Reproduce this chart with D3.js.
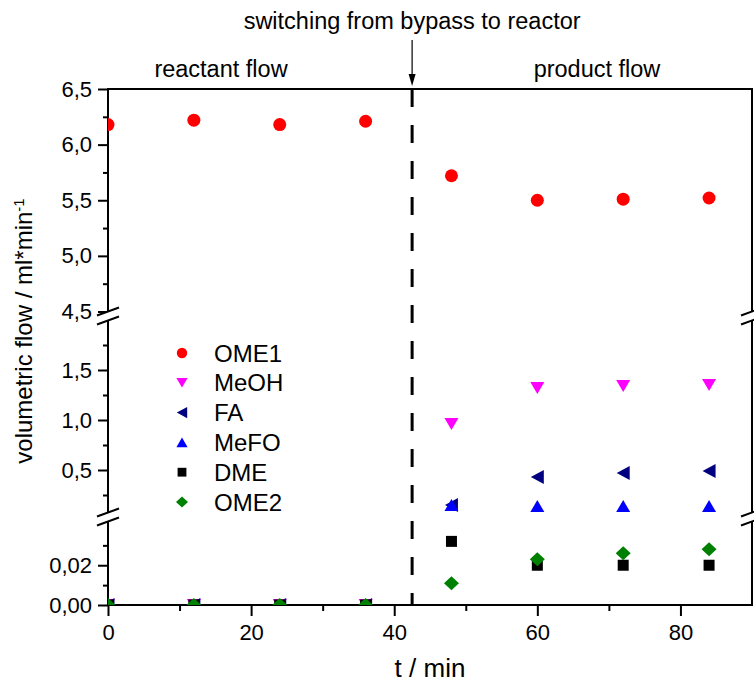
<!DOCTYPE html>
<html>
<head>
<meta charset="utf-8">
<script src="https://cdn.jsdelivr.net/npm/d3@7"></script>
<style>
  html, body { margin: 0; padding: 0; background: #fff; }
  svg text { font-family: "Liberation Sans", Arial, sans-serif; fill: #000; }
</style>
</head>
<body>
<div id="chart"></div>
<script>
// sampling times (min)
var times = [0, 12, 24, 36, 48, 60, 72, 84];

// volumetric flows (ml/min) per species
var ome1 = [6.18, 6.22, 6.18, 6.21, 5.72, 5.50, 5.51, 5.52];
var meoh = [0, 0, 0, 0, 0.96, 1.32, 1.34, 1.35];
var fa   = [0, 0, 0, 0, 0.15, 0.43, 0.47, 0.49];
var mefo = [0, 0, 0, 0, 0.15, 0.14, 0.14, 0.14];
var dme  = [0, 0, 0, 0, 0.032, 0.020, 0.020, 0.020];
var ome2 = [0, 0, 0, 0, 0.011, 0.023, 0.026, 0.028];

var seriesNames  = ['OME1', 'MeOH', 'FA', 'MeFO', 'DME', 'OME2'];
var seriesValues = [ome1, meoh, fa, mefo, dme, ome2];

// broken y axis: three segments, top to bottom
var segDomains = [[4.5, 6.5], [0.075, 1.995], [0, 0.042]];
var segMajor   = [[4.5, 5.0, 5.5, 6.0, 6.5], [0.5, 1.0, 1.5], [0, 0.02]];
var segMinor   = [[4.75, 5.25, 5.75, 6.25], [0.25, 0.75, 1.25, 1.75], [0.01, 0.03]];
var segDigits  = [1, 1, 2];

var xDomain = [0, 90];
var xMajor = [0, 20, 40, 60, 80];
var xMinor = [10, 30, 50, 70];
var switchTime = 42.5;

function draw() {
    var width = 754, height = 685;
    var plot = {left: 108, right: 752, top: 89, bottom: 605};
    var breaks = [316, 517];
    var gap = 4.5;

    var svg = d3.select('#chart').append('svg')
        .attr('width', width)
        .attr('height', height);

    var x = d3.scaleLinear().domain(xDomain).range([plot.left, plot.right]);

    var segRanges = [
        [breaks[0] - gap, plot.top],
        [breaks[1] - gap, breaks[0] + gap],
        [plot.bottom, breaks[1] + gap]
    ];
    var ys = segDomains.map((d, i) => d3.scaleLinear().domain(d).range(segRanges[i]));

    function y(v) {
        if (v >= segDomains[0][0]) return ys[0](v);
        if (v >= segDomains[1][0]) return ys[1](v);
        return ys[2](v);
    }

    var styles = [
        {shape: 'circle', color: '#ff0000'},
        {shape: 'down',   color: '#ff00ff'},
        {shape: 'left',   color: '#000080'},
        {shape: 'up',     color: '#0000ff'},
        {shape: 'square', color: '#000000'},
        {shape: 'diamond', color: '#008000'}
    ];

    function marker(shape, k) {
        var p = d3.path();
        if (shape === 'circle') {
            p.arc(0, 0, 6.5 * k, 0, 2 * Math.PI);
        } else if (shape === 'down') {
            p.moveTo(-7 * k, -6 * k); p.lineTo(7 * k, -6 * k); p.lineTo(0, 6 * k); p.closePath();
        } else if (shape === 'up') {
            p.moveTo(-7 * k, 6 * k); p.lineTo(7 * k, 6 * k); p.lineTo(0, -6 * k); p.closePath();
        } else if (shape === 'left') {
            p.moveTo(6.5 * k, -7 * k); p.lineTo(6.5 * k, 7 * k); p.lineTo(-6.5 * k, 0); p.closePath();
        } else if (shape === 'square') {
            p.rect(-5.5 * k, -5.5 * k, 11 * k, 11 * k);
        } else {
            p.moveTo(0, -7 * k); p.lineTo(7.5 * k, 0); p.lineTo(0, 7 * k); p.lineTo(-7.5 * k, 0); p.closePath();
        }
        return p.toString();
    }

    function fmt(digits) {
        return v => d3.format('.' + digits + 'f')(v).replace('.', ',');
    }

    // y axis ticks, one axis per segment
    ys.forEach(function(s, i) {
        var gMaj = svg.append('g')
            .attr('transform', `translate(${plot.left},0)`)
            .call(d3.axisLeft(s).tickValues(segMajor[i]).tickSize(10).tickPadding(6).tickFormat(fmt(segDigits[i])));
        gMaj.select('.domain').remove();
        gMaj.selectAll('line').attr('stroke', '#000').attr('stroke-width', 2);
        gMaj.selectAll('text').style('font-size', '22px');

        var gMin = svg.append('g')
            .attr('transform', `translate(${plot.left},0)`)
            .call(d3.axisLeft(s).tickValues(segMinor[i]).tickSize(5).tickFormat(''));
        gMin.select('.domain').remove();
        gMin.selectAll('line').attr('stroke', '#000').attr('stroke-width', 2);
    });

    // x axis
    var gx = svg.append('g')
        .attr('transform', `translate(0,${plot.bottom})`)
        .call(d3.axisBottom(x).tickValues(xMajor).tickSize(11).tickPadding(8).tickFormat(d3.format('d')));
    gx.select('.domain').remove();
    gx.selectAll('line').attr('stroke', '#000').attr('stroke-width', 2);
    gx.selectAll('text').style('font-size', '22px');

    var gxm = svg.append('g')
        .attr('transform', `translate(0,${plot.bottom})`)
        .call(d3.axisBottom(x).tickValues(xMinor).tickSize(6).tickFormat(''));
    gxm.select('.domain').remove();
    gxm.selectAll('line').attr('stroke', '#000').attr('stroke-width', 2);

    // frame
    svg.append('rect')
        .attr('x', plot.left).attr('y', plot.top)
        .attr('width', plot.right - plot.left)
        .attr('height', plot.bottom - plot.top)
        .attr('fill', 'none')
        .attr('stroke', '#000')
        .attr('stroke-width', 2);

    // axis break marks on left and right sides
    var dx = 11, dy = 4;
    [plot.left, plot.right].forEach(function(bx) {
        breaks.forEach(function(by) {
            var a = by - gap, b = by + gap;
            svg.append('polygon')
                .attr('points', [[bx - dx, a + dy], [bx + dx, a - dy], [bx + dx, b - dy], [bx - dx, b + dy]].join(' '))
                .attr('fill', '#fff');
            [a, b].forEach(function(c) {
                svg.append('line')
                    .attr('x1', bx - dx).attr('y1', c + dy)
                    .attr('x2', bx + dx).attr('y2', c - dy)
                    .attr('stroke', '#000').attr('stroke-width', 2);
            });
        });
    });

    // switch line
    svg.append('line')
        .attr('x1', x(switchTime)).attr('x2', x(switchTime))
        .attr('y1', plot.top).attr('y2', plot.bottom)
        .attr('stroke', '#000')
        .attr('stroke-width', 3)
        .attr('stroke-dasharray', '18,18');

    // markers
    svg.append('clipPath').attr('id', 'plot-clip')
        .append('rect')
        .attr('x', plot.left).attr('y', plot.top)
        .attr('width', plot.right - plot.left)
        .attr('height', plot.bottom - plot.top);

    var pts = svg.append('g').attr('clip-path', 'url(#plot-clip)');
    seriesValues.forEach(function(vals, i) {
        pts.append('g').selectAll('path')
            .data(vals)
            .enter()
            .append('path')
            .attr('d', marker(styles[i].shape, 1))
            .attr('fill', styles[i].color)
            .attr('transform', (d, j) => `translate(${x(times[j])},${y(d)})`);
    });

    // legend
    var legend = svg.append('g');
    seriesNames.forEach(function(name, i) {
        var ly = 353 + i * 29.8;
        legend.append('path')
            .attr('d', marker(styles[i].shape, 0.8))
            .attr('fill', styles[i].color)
            .attr('transform', `translate(182,${ly})`);
        legend.append('text')
            .attr('x', 214)
            .attr('y', ly)
            .attr('dy', '0.36em')
            .style('font-size', '24px')
            .text(name);
    });

    // annotations
    var sx = x(switchTime);
    svg.append('text')
        .attr('x', sx).attr('y', 29)
        .attr('text-anchor', 'middle')
        .style('font-size', '23.5px')
        .text('switching from bypass to reactor');

    svg.append('line')
        .attr('x1', sx).attr('x2', sx)
        .attr('y1', 40).attr('y2', 76)
        .attr('stroke', '#000').attr('stroke-width', 1.2);
    svg.append('path')
        .attr('d', `M${sx - 3.5},74 L${sx + 3.5},74 L${sx},86 Z`)
        .attr('fill', '#000');

    svg.append('text')
        .attr('x', 221).attr('y', 77)
        .attr('text-anchor', 'middle')
        .style('font-size', '23.5px')
        .text('reactant flow');

    svg.append('text')
        .attr('x', 597).attr('y', 77)
        .attr('text-anchor', 'middle')
        .style('font-size', '23.5px')
        .text('product flow');

    // axis titles
    svg.append('text')
        .attr('x', 430).attr('y', 677)
        .attr('text-anchor', 'middle')
        .style('font-size', '26px')
        .text('t / min');

    var yt = svg.append('text')
        .attr('transform', 'translate(32,331) rotate(-90)')
        .attr('text-anchor', 'middle')
        .style('font-size', '24px');
    yt.append('tspan').text('volumetric flow / ml*min');
    yt.append('tspan').attr('dy', '-0.55em').style('font-size', '15px').text('-1');
}

document.addEventListener('DOMContentLoaded', draw);
</script>
</body>
</html>
